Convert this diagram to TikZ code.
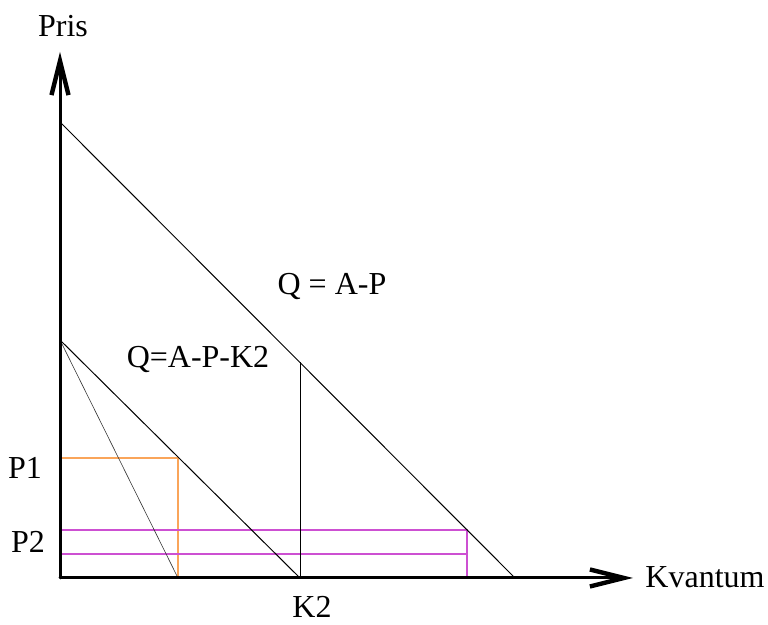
\documentclass[tikz,border=0pt]{standalone}
\usepackage{fontspec}
\setmainfont{Liberation Serif}
\usetikzlibrary{arrows.meta}
\definecolor{pcol}{RGB}{250,165,90}
\definecolor{mcol}{RGB}{205,80,210}

\begin{document}
\begin{tikzpicture}[
    x=0.5pt, y=-0.5pt,
    axis/.style={line width=1.5pt, line cap=round, -{Straight Barb[length=17pt, width=8.5pt, line width=2.2pt]}},
    demand/.style={line width=0.5pt},
    guide/.style={line width=0.6pt},
    lbl/.style={anchor=base, inner sep=0pt, font=\rmfamily\fontsize{16}{19}\selectfont}
]
\useasboundingbox (0,0) rectangle (768,625);

% Points
\coordinate (O) at (60,578);
\coordinate (ytip) at (60,52);
\coordinate (xtip) at (633,578);
\coordinate (A) at (60,122);
\coordinate (Aq) at (515,578);
\coordinate (B) at (60,340);
\coordinate (Bq) at (300,578);
\coordinate (Bk) at (300,362);
\coordinate (D) at (178,578);
\coordinate (P1y) at (60,458);
\coordinate (P1x) at (178,458);
\coordinate (P2y) at (60,530);
\coordinate (P2x) at (467,530);
\coordinate (P2y2) at (60,554);
\coordinate (P2x2) at (467,554);
\coordinate (P2q) at (467,578);

% Guides
\draw[guide, pcol] (P1y) -- (P1x) -- (D);
\draw[guide, mcol] (P2y) -- (P2x) -- (P2q);
\draw[guide, mcol] (P2y2) -- (P2x2);

% Demand curves
\draw[demand] (A) -- (Aq);
\draw[demand] (B) -- (Bq);
\draw[demand, line width=0.3pt, black!80] (B) -- (D);
\draw[demand] (Bq) -- (Bk);

% Axes
\draw[axis] (O) -- (ytip);
\draw[axis] (O) -- (xtip);

% Labels
\node[lbl] (pris) at (63,37) {Pris};
\node[lbl] (kvant) at (705,588) {Kvantum};
\node[lbl] (k2) at (312,618) {K2};
\node[lbl] (p1) at (25,479) {P1};
\node[lbl] (p2) at (28,553) {P2};
\node[lbl] (qa) at (332,295) {Q = A-P};
\node[lbl] (qak) at (198,368) {Q=A-P-K2};

\end{tikzpicture}
\end{document}
